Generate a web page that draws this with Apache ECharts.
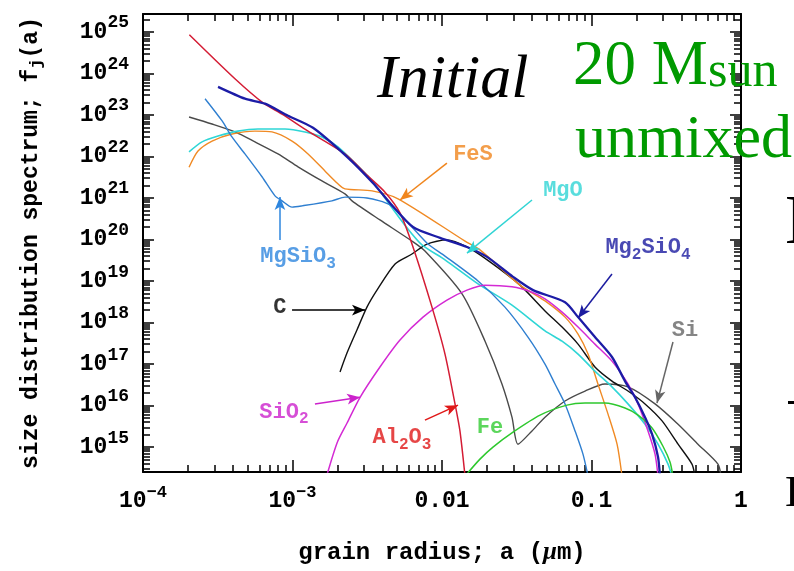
<!DOCTYPE html>
<html>
<head>
<meta charset="utf-8">
<script src="https://cdn.jsdelivr.net/npm/echarts@6/dist/echarts.min.js"></script>
<style>
  html, body { margin: 0; padding: 0; background: #fff; }
  #chart { width: 794px; height: 571px; }
</style>
</head>
<body>
<div id="chart"></div>
<script>
// Each curve: [log10(a / µm), log10 f_j(a)]
const Al2O3 = [[-3.69,24.93],[-3.385,23.87],[-3.197,23.29],[-3.07,23.02],[-2.896,22.61],[-2.649,22.06],
  [-2.502,21.55],[-2.381,21.14],[-2.281,20.64],[-2.194,19.82],[-2.067,18.37],[-1.98,17.24],[-1.913,16.04],
  [-1.88,15.39],[-1.846,14.3]];
const Mg2SiO4 = [[-3.498,23.675],[-3.318,23.39],[-3.184,23.27],[-3.03,22.98],[-2.863,22.69],[-2.635,21.99],
  [-2.462,21.36],[-2.348,20.88],[-2.194,20.30],[-2.013,20.04],[-1.833,19.82],[-1.699,19.58],[-1.525,19.10],
  [-1.391,18.78],[-1.177,18.49],[-1.09,18.13],[-0.977,17.65],[-0.863,17.17],[-0.776,16.59],[-0.709,16.20],
  [-0.642,15.72],[-0.595,15.31],[-0.555,14.76],[-0.542,14.3]];
const MgSiO3 = [[-3.585,23.39],[-3.472,22.86],[-3.405,22.47],[-3.318,22.06],[-3.204,21.51],[-3.117,21.05],
  [-3.07,20.93],[-3.003,20.78],[-2.936,20.81],[-2.736,20.93],[-2.649,21.02],[-2.502,21.0],[-2.348,20.83],
  [-2.214,20.35],[-2.094,19.89],[-1.98,19.60],[-1.759,19.0],[-1.579,18.37],[-1.425,17.65],[-1.311,17.0],
  [-1.244,16.52],[-1.177,16.04],[-1.11,15.39],[-1.057,14.83],[-1.023,14.3]];
const C = [[-2.682,16.81],[-2.635,17.27],[-2.569,17.82],[-2.502,18.37],[-2.435,18.78],[-2.314,19.41],
  [-2.201,19.65],[-2.1,19.89],[-1.967,19.99],[-1.833,19.82],[-1.679,19.46],[-1.478,18.90],[-1.311,18.28],
  [-1.197,17.89],[-1.09,17.48],[-0.977,16.93],[-0.863,16.59],[-0.756,16.35],[-0.642,16.04],[-0.528,15.63],
  [-0.421,15.07],[-0.328,14.59],[-0.308,14.3]];
const FeS = [[-3.692,21.74],[-3.632,22.13],[-3.538,22.37],[-3.405,22.54],[-3.251,22.61],[-3.137,22.59],
  [-3.003,22.37],[-2.896,22.06],[-2.783,21.65],[-2.696,21.34],[-2.649,21.22],[-2.468,21.17],[-2.294,20.98],
  [-1.846,19.96],[-1.746,19.75],[-1.478,18.90],[-1.311,18.52],[-1.177,18.13],[-1.09,17.72],[-1.023,17.24],
  [-0.957,16.52],[-0.89,15.80],[-0.829,15.07],[-0.796,14.3]];
const MgO = [[-3.692,22.11],[-3.605,22.35],[-3.498,22.49],[-3.365,22.61],[-3.231,22.66],[-3.05,22.66],
  [-2.916,22.59],[-2.803,22.47],[-2.696,22.23],[-2.582,21.84],[-2.462,21.39],[-2.348,20.83],[-2.234,20.28],
  [-2.134,19.87],[-1.98,19.51],[-1.759,18.93],[-1.532,18.42],[-1.311,17.80],[-1.197,17.55],[-1.09,17.24],
  [-0.977,16.83],[-0.863,16.45],[-0.756,16.04],[-0.642,15.55],[-0.555,15.07],[-0.488,14.59],[-0.462,14.3]];
const SiO2 = [[-2.78,14.2],[-2.702,15.10],[-2.635,15.58],[-2.548,16.20],[-2.415,16.93],[-2.281,17.58],
  [-2.127,18.13],[-1.967,18.54],[-1.833,18.78],[-1.712,18.90],[-1.532,18.86],[-1.398,18.73],[-1.311,18.57],
  [-1.197,18.25],[-1.09,17.89],[-0.977,17.48],[-0.863,17.07],[-0.756,16.52],[-0.689,16.04],[-0.622,15.39],
  [-0.575,14.83],[-0.555,14.3]];
const Fe = [[-1.846,14.3],[-1.746,14.71],[-1.659,15.0],[-1.525,15.36],[-1.344,15.77],[-1.164,16.01],
  [-1.043,16.06],[-0.91,16.06],[-0.776,15.94],[-0.689,15.77],[-0.595,15.46],[-0.522,15.02],[-0.475,14.64],
  [-0.455,14.3]];
const Si = [[-3.692,22.95],[-3.538,22.78],[-3.385,22.59],[-3.251,22.35],[-3.097,22.06],[-2.963,21.75],
  [-2.803,21.41],[-2.649,21.10],[-2.602,20.93],[-2.415,20.47],[-2.201,19.96],[-2.114,19.72],[-1.866,18.69],
  [-1.712,17.55],[-1.599,16.52],[-1.532,15.72],[-1.492,15.07],[-1.398,15.39],[-1.311,15.72],[-1.177,16.11],
  [-1.043,16.35],[-0.91,16.52],[-0.756,16.45],[-0.575,16.04],[-0.421,15.55],[-0.288,15.07],[-0.154,14.59],
  [-0.134,14.3]];

// Axis ranges (decades) and tick labels
const xRange = [-4, 0];
const yRange = [14.4, 25.43];
const xMajor = [-4, -3, -2, -1, 0];
const xTickText = { '-4': '{b|10}{s|−4}', '-3': '{b|10}{s|−3}', '-2': '{b|0.01}', '-1': '{b|0.1}', '0': '{b|1}' };
const yMajor = [15, 16, 17, 18, 19, 20, 21, 22, 23, 24, 25];

// Minor ticks at 2..9 times each power of ten
function logMinor(lo, hi) {
  const out = [];
  for (let n = Math.floor(lo); n < hi; n++) {
    for (let k = 2; k <= 9; k++) {
      const v = n + Math.log10(k);
      if (v > lo && v < hi) out.push(v);
    }
  }
  return out;
}
const xMinor = logMinor(xRange[0], xRange[1]);
const yMinor = logMinor(yRange[0], yRange[1]);

const MONO = '"Liberation Mono", "DejaVu Sans Mono", monospace';
const SERIF = '"Liberation Serif", "DejaVu Serif", serif';

const curves = [
  { name: 'Si', data: Si, color: '#4a4a4a', width: 1.4 },
  { name: 'C', data: C, color: '#111111', width: 1.4 },
  { name: 'FeS', data: FeS, color: '#f08a24', width: 1.4 },
  { name: 'MgO', data: MgO, color: '#2fd6d6', width: 1.6 },
  { name: 'MgSiO3', data: MgSiO3, color: '#2f7fd0', width: 1.4 },
  { name: 'SiO2', data: SiO2, color: '#d42ad4', width: 1.5 },
  { name: 'Fe', data: Fe, color: '#2ec82e', width: 1.5 },
  { name: 'Al2O3', data: Al2O3, color: '#d41c34', width: 1.5 },
  { name: 'Mg2SiO4', data: Mg2SiO4, color: '#1c1ca6', width: 2.3 }
];

// Species labels and their pointer arrows, placed in data space
const notes = [
  { text: '{t|FeS}', color: '#f0861e', at: [-1.793, 22.04], from: [-1.967, 21.84], to: [-2.281, 20.95] },
  { text: '{t|MgO}', color: '#30d4d4', at: [-1.191, 21.19], from: [-1.398, 20.95], to: [-1.833, 19.67] },
  { text: '{t|MgSiO}{u|3}', color: '#2e86de', at: [-2.963, 19.58], from: [-3.084, 19.99], to: [-3.084, 21.02] },
  { text: '{t|Mg}{u|2}{t|SiO}{u|4}', color: '#1c1ca0', at: [-0.622, 19.80], from: [-0.863, 19.17], to: [-1.09, 18.11] },
  { text: '{t|C}', color: '#000000', at: [-3.084, 18.37], from: [-3.003, 18.30], to: [-2.515, 18.30] },
  { text: '{t|SiO}{u|2}', color: '#cc22cc', at: [-3.057, 15.84], from: [-2.85, 16.04], to: [-2.548, 16.20] },
  { text: '{t|Al}{u|2}{t|O}{u|3}', color: '#e01818', at: [-2.268, 15.22], from: [-2.114, 15.65], to: [-1.893, 16.01] },
  { text: '{t|Fe}', color: '#33cc33', at: [-1.679, 15.48] },
  { text: '{t|Si}', color: '#666666', at: [-0.375, 17.82], from: [-0.455, 17.53], to: [-0.562, 16.06] }
];

function noteRich(color) {
  return {
    t: { fontFamily: MONO, fontWeight: 'bold', fontSize: 22, color: color, lineHeight: 30 },
    u: { fontFamily: MONO, fontWeight: 'bold', fontSize: 16, color: color, lineHeight: 14, verticalAlign: 'bottom' }
  };
}

const tickLine = { color: '#000', width: 1.5 };
const frameLine = { show: true, onZero: false, lineStyle: { color: '#000', width: 2 } };
const noLine = { show: false, onZero: false };

function xAxisDef(position, major, withLabels) {
  const def = {
    type: 'value', position: position, min: xRange[0], max: xRange[1],
    axisLine: major ? frameLine : noLine,
    axisTick: { show: true, inside: true, length: major ? 12 : 7, lineStyle: tickLine,
                customValues: major ? xMajor : xMinor },
    axisLabel: { show: false },
    splitLine: { show: false }
  };
  if (withLabels) {
    def.axisLabel = {
      show: true, margin: 12, customValues: xMajor,
      formatter: v => xTickText[String(Math.round(v))],
      rich: {
        b: { fontFamily: MONO, fontWeight: 'bold', fontSize: 23, color: '#000', lineHeight: 34 },
        s: { fontFamily: MONO, fontWeight: 'bold', fontSize: 17, color: '#000', lineHeight: 17, verticalAlign: 'top' }
      }
    };
    def.name = '{n|grain radius; a (}{m|μ}{n|m)}';
    def.nameLocation = 'middle';
    def.nameGap = 68;
    def.nameTextStyle = {
      rich: {
        n: { fontFamily: MONO, fontWeight: 'bold', fontSize: 24, color: '#000' },
        m: { fontFamily: SERIF, fontStyle: 'italic', fontWeight: 'bold', fontSize: 25, color: '#000' }
      }
    };
  }
  return def;
}

function yAxisDef(position, major, withLabels) {
  const def = {
    type: 'value', position: position, min: yRange[0], max: yRange[1],
    axisLine: major ? frameLine : noLine,
    axisTick: { show: true, inside: true, length: major ? 11 : 7, lineStyle: tickLine,
                customValues: major ? yMajor : yMinor },
    axisLabel: { show: false },
    splitLine: { show: false }
  };
  if (withLabels) {
    def.axisLabel = {
      show: true, margin: 14, customValues: yMajor,
      formatter: v => '{b|10}{s|' + Math.round(v) + '}',
      rich: {
        b: { fontFamily: MONO, fontWeight: 'bold', fontSize: 23, color: '#000', lineHeight: 36 },
        s: { fontFamily: MONO, fontWeight: 'bold', fontSize: 18, color: '#000', lineHeight: 18, verticalAlign: 'top' }
      }
    };
    def.name = '{n|size distribution spectrum; f}{j|j}{n|(a)}';
    def.nameLocation = 'middle';
    def.nameGap = 98;
    def.nameTextStyle = {
      rich: {
        n: { fontFamily: MONO, fontWeight: 'bold', fontSize: 23, color: '#000', lineHeight: 28 },
        j: { fontFamily: MONO, fontWeight: 'bold', fontSize: 17, color: '#000', lineHeight: 14, verticalAlign: 'bottom' }
      }
    };
  }
  return def;
}

const series = curves.map(c => ({
  type: 'line', name: c.name, data: c.data, xAxisIndex: 0, yAxisIndex: 0,
  showSymbol: false, smooth: 0.25, clip: true,
  lineStyle: { color: c.color, width: c.width }, itemStyle: { color: c.color },
  silent: true, z: 3
}));

series.push({
  type: 'scatter', name: 'labels', xAxisIndex: 0, yAxisIndex: 0, symbolSize: 0, silent: true, z: 5,
  data: notes.map(n => ({
    value: n.at,
    label: { show: true, position: 'inside', formatter: n.text, rich: noteRich(n.color) }
  })),
  markLine: {
    silent: true, animation: false, symbol: ['none', 'arrow'], symbolSize: [8, 13],
    label: { show: false },
    data: notes.filter(n => n.from).map(n => [
      { coord: n.from, lineStyle: { color: n.color, width: 1.5, type: 'solid' }, itemStyle: { color: n.color } },
      { coord: n.to }
    ])
  }
});

const GREEN = '#009a00';

const option = {
  backgroundColor: '#ffffff',
  animation: false,
  grid: { left: 143, right: 53, top: 14, bottom: 99, outerBoundsMode: 'none', containLabel: false },
  xAxis: [
    xAxisDef('bottom', true, true),
    xAxisDef('top', true, false),
    xAxisDef('bottom', false, false),
    xAxisDef('top', false, false)
  ],
  yAxis: [
    yAxisDef('left', true, true),
    yAxisDef('right', true, false),
    yAxisDef('left', false, false),
    yAxisDef('right', false, false)
  ],
  series: series,
  graphic: [
    { type: 'text', left: 377, top: 50, z: 10,
      style: { text: 'Initial', font: 'italic 62px ' + SERIF, fill: '#000' } },
    { type: 'text', left: 573, top: 36, z: 10,
      style: { text: '20 M', font: '63px ' + SERIF, fill: GREEN } },
    { type: 'text', left: 708, top: 48, z: 10,
      style: { text: 'sun', font: '50px ' + SERIF, fill: GREEN } },
    { type: 'text', left: 575, top: 110, z: 10,
      style: { text: 'unmixed', font: '62px ' + SERIF, fill: GREEN } },
    { type: 'text', left: 785, top: 190, z: 10,
      style: { text: 'D', font: '70px ' + SERIF, fill: '#000' } },
    { type: 'rect', left: 788, top: 401, z: 10, shape: { width: 10, height: 3 }, style: { fill: '#000' } },
    { type: 'text', left: 785, top: 472, z: 10,
      style: { text: 'D', font: '45px ' + SERIF, fill: '#000' } }
  ]
};

const chart = echarts.init(document.getElementById('chart'));
chart.setOption(option);
</script>
</body>
</html>
